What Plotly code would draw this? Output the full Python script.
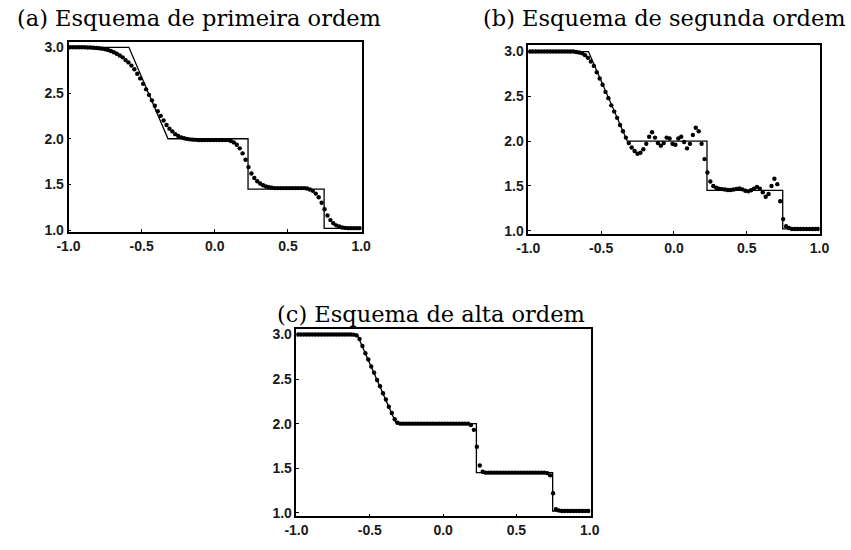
import numpy as np
import plotly.graph_objects as go

# grid of cell centres
x_cells = np.round(np.arange(-0.99, 1.0, 0.02), 2)

# exact solution (corner points)
exact_x = [-1.0, -0.587, -0.32, 0.227, 0.227, 0.747, 0.747, 1.0]
exact_y = [3.0, 3.0, 2.0, 2.0, 1.45, 1.45, 1.02, 1.02]

# (a) first order scheme
y_first = [3.00, 3.00, 3.00, 3.00, 3.00, 3.00, 2.998, 2.997, 2.995, 2.993,
           2.99, 2.985, 2.978, 2.97, 2.96, 2.945, 2.93, 2.91, 2.89, 2.86,
           2.835, 2.80, 2.76, 2.71, 2.66, 2.60, 2.54, 2.48, 2.42, 2.36,
           2.30, 2.25, 2.20, 2.15, 2.11, 2.08, 2.05, 2.03, 2.015, 2.005,
           1.998, 1.993, 1.99, 1.988, 1.985, 1.985, 1.985, 1.985, 1.985, 1.985,
           1.985, 1.985, 1.985, 1.985, 1.985, 1.975, 1.96, 1.935, 1.895, 1.84,
           1.77, 1.69, 1.62, 1.57, 1.535, 1.51, 1.492, 1.478, 1.47, 1.465,
           1.46, 1.46, 1.46, 1.46, 1.46, 1.46, 1.46, 1.46, 1.46, 1.46,
           1.46, 1.455, 1.445, 1.43, 1.40, 1.36, 1.30, 1.23, 1.16, 1.11,
           1.075, 1.053, 1.04, 1.03, 1.025, 1.022, 1.022, 1.022, 1.022, 1.022]

# (b) second order scheme
y_second = [3.00, 3.00, 3.00, 3.00, 3.00, 3.00, 3.00, 3.00, 3.00, 3.00,
            3.00, 3.00, 3.00, 3.00, 3.00, 3.00, 2.995, 2.99, 2.98, 2.96,
            2.93, 2.89, 2.84, 2.77, 2.70, 2.63, 2.55, 2.48, 2.40, 2.33,
            2.26, 2.18, 2.11, 2.04, 1.98, 1.93, 1.89, 1.86, 1.87, 1.91,
            1.97, 2.05, 2.10, 2.04, 1.98, 1.95, 1.98, 2.04, 2.03, 1.97,
            1.96, 2.03, 2.05, 1.99, 1.92, 1.97, 2.07, 2.15, 2.11, 1.97,
            1.80, 1.65, 1.55, 1.50, 1.48, 1.47, 1.465, 1.46, 1.455, 1.455,
            1.46, 1.468, 1.472, 1.462, 1.447, 1.44, 1.452, 1.47, 1.49, 1.47,
            1.43, 1.38, 1.41, 1.50, 1.58, 1.52, 1.33, 1.13, 1.05, 1.03,
            1.02, 1.02, 1.02, 1.02, 1.02, 1.02, 1.02, 1.02, 1.02, 1.02]

# (c) high order scheme
y_high = [3.00, 3.00, 3.00, 3.00, 3.00, 3.00, 3.00, 3.00, 3.00, 3.00,
          3.00, 3.00, 3.00, 3.00, 3.00, 3.00, 3.00, 3.00, 3.00, 2.998,
          2.99, 2.95, 2.87, 2.79, 2.72, 2.64, 2.57, 2.49, 2.42, 2.34,
          2.27, 2.19, 2.12, 2.05, 2.01, 2.00, 2.00, 2.00, 2.00, 2.00,
          2.00, 2.00, 2.00, 2.00, 2.00, 2.00, 2.00, 2.00, 2.00, 2.00,
          2.00, 2.00, 2.00, 2.00, 2.00, 2.00, 2.00, 2.00, 2.00, 1.985,
          1.93, 1.74, 1.53, 1.46, 1.45, 1.45, 1.45, 1.45, 1.45, 1.45,
          1.45, 1.45, 1.45, 1.45, 1.45, 1.45, 1.45, 1.45, 1.45, 1.45,
          1.45, 1.45, 1.45, 1.45, 1.45, 1.445, 1.42, 1.22, 1.04, 1.025,
          1.02, 1.02, 1.02, 1.02, 1.02, 1.02, 1.02, 1.02, 1.02, 1.02]

titles = ["(a) Esquema de primeira ordem",
          "(b) Esquema de segunda ordem",
          "(c) Esquema de alta ordem"]
x_ticks = [-1.0, -0.5, 0.0, 0.5, 1.0]
x_tick_text = ["-1.0", "-0.5", "0.0", "0.5", "1.0"]
y_ticks = [1.0, 1.5, 2.0, 2.5, 3.0]
y_tick_text = ["1.0", "1.5", "2.0", "2.5", "3.0"]

W, H = 851, 550
# pixel boxes: left, right, top, bottom
boxes = [(58, 359, 40, 233), (530, 829, 43, 235), (292, 594, 331, 522)]
yranges = [[0.978, 3.054], [0.962, 3.07], [0.959, 3.066]]
xranges = [[-1.0, 1.004], [-1.0, 1.0], [-1.0, 1.006]]
title_pos = [(192, 0), (670, 0), (430, 301)]   # centre x, top y

fig = go.Figure()
series = [y_first, y_second, y_high]
for k in range(3):
    xa = "x" if k == 0 else f"x{k+1}"
    ya = "y" if k == 0 else f"y{k+1}"
    fig.add_trace(go.Scatter(x=exact_x, y=exact_y, mode="lines",
                             line=dict(color="black", width=1.3),
                             xaxis=xa, yaxis=ya, showlegend=False))
    fig.add_trace(go.Scatter(x=x_cells, y=series[k], mode="markers",
                             marker=dict(color="black", size=4.4),
                             xaxis=xa, yaxis=ya, showlegend=False))

tickfont = dict(family="Liberation Sans", size=14, color="#1a1a1a", weight="bold")
layout = dict(width=W, height=H, margin=dict(l=0, r=0, t=0, b=0),
              paper_bgcolor="white", plot_bgcolor="white")
for k, (l, r, t, b) in enumerate(boxes):
    sx = "" if k == 0 else str(k + 1)
    layout["xaxis" + sx] = dict(
        domain=[l / W, r / W], range=xranges[k], anchor="y" + sx,
        tickvals=x_ticks, ticktext=x_tick_text, ticks="inside", ticklen=3,
        tickcolor="black", showline=True, mirror=True, linecolor="black",
        linewidth=1.6, showgrid=False, zeroline=False, tickfont=tickfont)
    layout["yaxis" + sx] = dict(
        domain=[1 - b / H, 1 - t / H], range=yranges[k], anchor="x" + sx,
        tickvals=y_ticks, ticktext=y_tick_text, ticks="inside", ticklen=3,
        tickcolor="black", showline=True, mirror=True, linecolor="black",
        linewidth=1.6, showgrid=False, zeroline=False, tickfont=tickfont)
fig.update_layout(**layout)

for k, (px, py) in enumerate(title_pos):
    fig.add_annotation(text=titles[k], xref="paper", yref="paper",
                       x=px / W, y=1 - py / H, xanchor="center", yanchor="top",
                       showarrow=False,
                       font=dict(family="DejaVu Serif", size=22.5, color="black"))

fig.write_html("out.html")
